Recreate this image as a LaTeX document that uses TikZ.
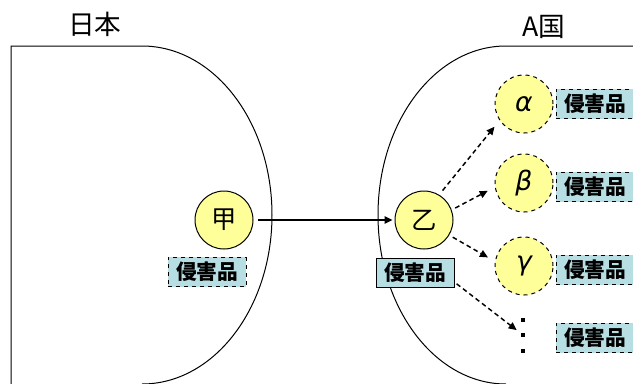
\documentclass[tikz,border=0pt]{standalone}
\usepackage{fontspec}
\newfontfamily\cjk{Noto Sans CJK JP}
\newfontfamily\greek{DejaVu Sans}
\usetikzlibrary{arrows.meta}
\definecolor{maruyellow}{RGB}{255,255,153}
\definecolor{hinblue}{RGB}{183,222,226}

\begin{document}
\begin{tikzpicture}[x=0.75pt, y=-0.75pt,
  maru/.style={circle, draw, line width=0.75pt, fill=maruyellow, minimum size=43.5pt, inner sep=0pt, font=\cjk\fontsize{19}{19}\selectfont},
  hin/.style={draw, line width=0.75pt, fill=hinblue, minimum width=58.5pt, minimum height=22pt, inner sep=0pt, font=\cjk\bfseries\fontsize{15.5}{15.5}\selectfont},
  ya/.style={-{Triangle[length=6pt,width=5.5pt]}, line width=1.1pt},
  tensen/.style={dash pattern=on 3.5pt off 2.5pt}]
\useasboundingbox (0,0) rectangle (633,383);

\draw[line width=0.75pt] (11,390) -- (11,46) -- (142,46) arc[start angle=-90, end angle=90, x radius=130, y radius=169];
\draw[line width=0.75pt] (640,46) -- (506,46) arc[start angle=-90, end angle=-270, x radius=128, y radius=169];

\node[font=\cjk\fontsize{20}{20}\selectfont] (japan) at (95,24) {日本};
\node[font=\cjk\fontsize{20}{20}\selectfont] (akoku) at (544,27) {A国};

\node[maru] (ko) at (224,220) {甲};
\node[hin, dashed] (kobox) at (207,272) {侵害品};
\node[maru] (otsu) at (424,220) {乙};
\node[hin] (otsubox) at (415,273) {侵害品};

\foreach \n/\g/\y/\b in {a/α/104/104, b/β/183/187, c/γ/266/270}{
\node[maru, dashed, font=\greek\itshape\fontsize{20}{20}\selectfont] (\n) at (524,\y) {\g};
\node[hin, dashed] (\n box) at (595,\b) {侵害品};
}
\node[hin, dashed] (dbox) at (595,338) {侵害品};

\foreach \y in {320,335,351}
\fill (520.7,\y-2.3) rectangle ++(4.6,4.6);
\coordinate (dots) at (523,335);

\draw[ya, shorten <=3.5pt, shorten >=1.5pt] (ko) -- (otsu);
\draw[ya, tensen, shorten <=4pt, shorten >=6pt] (otsu.59) -- (a.214);
\draw[ya, tensen, shorten <=3pt, shorten >=6pt] (otsu.20) -- (b.188);
\draw[ya, tensen, shorten <=3pt, shorten >=6pt] (otsu.-31) -- (c.171);
\draw[ya, tensen, shorten <=2pt, shorten >=6pt] ([yshift=4.5pt]otsubox.south east) -- (dots);

\end{tikzpicture}
\end{document}
